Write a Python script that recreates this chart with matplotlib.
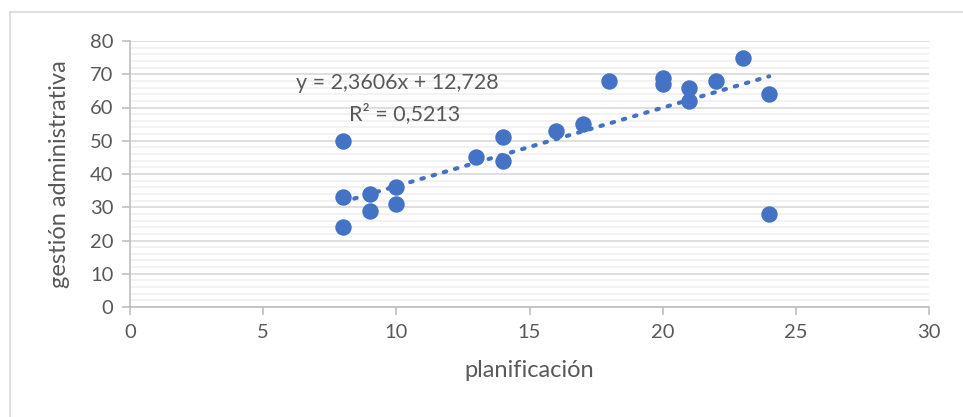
import numpy as np
import matplotlib
matplotlib.use("Agg")
import matplotlib.pyplot as plt
from matplotlib.patches import Rectangle

# datos
planificacion = [8, 8, 8, 9, 9, 10, 10, 13, 14, 14, 16, 17, 18, 20, 20, 21, 21, 22, 23, 24, 24]
gestion = [50, 33, 24, 34, 29, 36, 31, 45, 51, 44, 53, 55, 68, 69, 67, 66, 62, 68, 75, 64, 28]
pendiente = 2.3606
intercepto = 12.728
r2_texto = "0,5213"

azul = "#4472C4"
gris_txt = "#595959"
plt.rcParams['font.family'] = ['Lato', 'DejaVu Sans']

fig = plt.figure(figsize=(9.63, 4.17), dpi=100)
ax = fig.add_axes([130 / 963, 1 - 307 / 417, (929 - 130) / 963, (307 - 41) / 417])

# marco exterior del gráfico
fig.patches.append(Rectangle((10 / 963, -0.1), 1.1, 1 - 12 / 417 + 0.1, transform=fig.transFigure,
                             fill=False, edgecolor="#d9d9d9", linewidth=1.2))

ax.set_xlim(0, 30)
ax.set_ylim(0, 80)
ax.set_xticks(range(0, 31, 5))
ax.set_yticks(range(0, 81, 10))
ax.set_yticks(range(0, 81, 2), minor=True)
ax.grid(True, which="minor", axis="y", color="#f0f0f0", linewidth=1.2)
ax.grid(True, which="major", axis="y", color="#d9d9d9", linewidth=1.2)
ax.set_axisbelow(True)

for s in ["top", "right"]:
    ax.spines[s].set_visible(False)
for s in ["left", "bottom"]:
    ax.spines[s].set_color("#bfbfbf")
    ax.spines[s].set_linewidth(1.2)
ax.tick_params(axis="both", which="major", length=6, color="#bfbfbf", width=1.2,
               labelsize=14.5, labelcolor=gris_txt, pad=6)
ax.tick_params(axis="y", which="minor", length=0)
ax.tick_params(axis="x", direction="out")

# línea de tendencia
xs = np.array([min(planificacion), max(planificacion)])
ax.plot(xs, pendiente * xs + intercepto, linestyle=(0, (0.6, 2.2)), linewidth=3,
        color=azul, dash_capstyle="round", zorder=2)

ax.scatter(planificacion, gestion, s=140, color=azul, zorder=3, linewidths=0)

ax.text(10.05, 67.5, "y = 2,3606x + 12,728", ha="center", va="center", fontsize=15.5, color=gris_txt)
ax.text(10.3, 58.3, "R² = " + r2_texto, ha="center", va="center", fontsize=15.5, color=gris_txt)

ax.set_xlabel("planificación", fontsize=17, color=gris_txt, labelpad=14)
ax.set_ylabel("gestión administrativa", fontsize=17, color=gris_txt, labelpad=14)

fig.savefig("out.png", dpi=100)
